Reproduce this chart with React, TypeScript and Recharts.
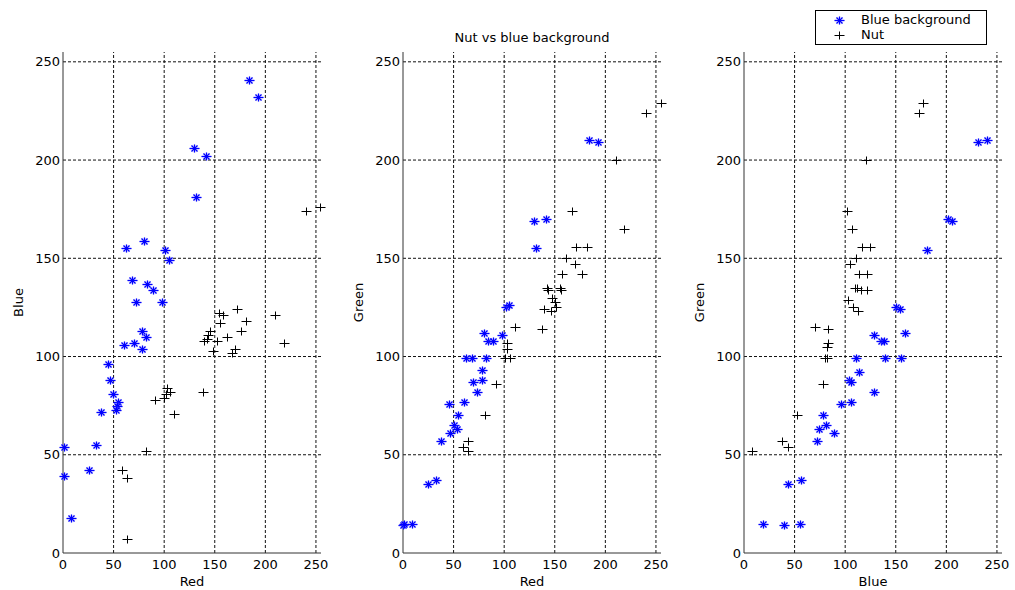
import { ScatterChart, Scatter, XAxis, YAxis, ReferenceLine } from "recharts";

type Pair = [number, number];

// Red vs Blue
const bgRedBlue: Pair[] = [
  [184, 241], [193, 232], [129, 206], [141, 202], [131, 181], [62, 155], [80, 159], [101, 154],
  [105, 149], [68, 139], [83, 137], [89, 134], [72, 128], [98, 128], [78, 113], [82, 110],
  [60, 106], [70, 107], [78, 104], [44, 96], [46, 88], [49, 81], [54, 77], [53, 75],
  [52, 73], [38, 72], [33, 55], [1, 54], [26, 42], [1, 39], [8, 18],
];
const nutRedBlue: Pair[] = [
  [154, 122], [158, 121], [172, 124], [210, 121], [181, 118], [155, 117], [176, 113], [162, 110],
  [145, 113], [143, 111], [139, 108], [142, 109], [152, 108], [218, 107], [148, 103], [167, 102],
  [170, 104], [103, 84], [106, 82], [102, 81], [100, 79], [91, 78], [138, 82], [110, 71],
  [82, 52], [58, 42], [63, 38], [63, 7], [240, 174], [254, 176],
];

// Red vs Green
const bgRedGreen: Pair[] = [
  [184, 210], [193, 209], [129, 169], [141, 170], [131, 155], [102, 125], [105, 126], [80, 112],
  [98, 111], [84, 108], [89, 108], [62, 99], [68, 99], [82, 99], [78, 93], [78, 88],
  [69, 87], [73, 82], [60, 77], [45, 76], [54, 70], [50, 65], [53, 63], [46, 61],
  [38, 57], [25, 35], [33, 37], [0, 14], [1, 15], [9, 15],
];
const nutRedGreen: Pair[] = [
  [255, 229], [240, 224], [211, 200], [218, 165], [167, 174], [171, 156], [182, 156], [161, 150],
  [170, 147], [157, 142], [177, 142], [142, 135], [143, 134], [156, 134], [155, 135], [147, 130],
  [151, 125], [139, 124], [146, 123], [150, 128], [111, 115], [137, 114], [103, 107], [103, 104],
  [101, 99], [106, 99], [92, 86], [81, 70], [64, 57], [59, 54], [64, 52],
];

// Blue vs Green
const bgBlueGreen: Pair[] = [
  [231, 209], [240, 210], [202, 170], [206, 169], [181, 154], [150, 125], [154, 124], [128, 111],
  [135, 108], [138, 108], [159, 112], [111, 99], [139, 99], [155, 99], [114, 92], [104, 88],
  [106, 87], [128, 82], [96, 76], [106, 77], [78, 70], [74, 63], [81, 65], [89, 61],
  [72, 57], [43, 35], [56, 37], [19, 15], [40, 14], [55, 15],
];
const nutBlueGreen: Pair[] = [
  [177, 229], [173, 224], [121, 200], [102, 174], [107, 165], [117, 156], [125, 156], [111, 150],
  [105, 147], [114, 142], [122, 142], [110, 135], [112, 135], [116, 134], [122, 134], [103, 129],
  [108, 125], [113, 123], [70, 115], [83, 114], [83, 107], [82, 105], [80, 99], [82, 99],
  [78, 86], [52, 70], [38, 57], [43, 54], [8, 52],
];

const ticks = [0, 50, 100, 150, 200, 250];
const gridTicks = [50, 100, 150, 200, 250];
const axisMax = 255;
const font = "'DejaVu Sans', sans-serif";
const toPoints = (d: Pair[]) => d.map(([x, y]) => ({ x, y }));

const Star = (props: any) => {
  const cx = Math.round(props.cx) + 0.5;
  const cy = Math.round(props.cy) + 0.5;
  const lines = (
    <>
      <line x1={cx - 5} x2={cx + 5} y1={cy} y2={cy} />
      <line x1={cx} x2={cx} y1={cy - 4} y2={cy + 4} />
      <line x1={cx - 3} y1={cy - 3} x2={cx + 3} y2={cy + 3} />
      <line x1={cx - 3} y1={cy + 3} x2={cx + 3} y2={cy - 3} />
    </>
  );
  return (
    <g>
      <g stroke="#8080ff" strokeWidth={2.2} opacity={0.45}>{lines}</g>
      <g stroke="#0000ff" strokeWidth={1.1}>{lines}</g>
    </g>
  );
};

const Cross = (props: any) => {
  const cx = Math.round(props.cx) + 0.5;
  const cy = Math.round(props.cy) + 0.5;
  return (
    <g stroke="#000" strokeWidth={1}>
      <line x1={cx - 5} x2={cx + 5} y1={cy} y2={cy} />
      <line x1={cx} x2={cx} y1={cy - 4} y2={cy + 4} />
    </g>
  );
};

interface PanelProps {
  left: number;
  marginLeft: number;
  marginRight: number;
  bg: Pair[];
  nut: Pair[];
  xLabel: string;
  yLabel: string;
}

const Panel = ({ left, marginLeft, marginRight, bg, nut, xLabel, yLabel }: PanelProps) => (
  <div style={{ position: "absolute", left, top: 0 }}>
    <ScatterChart
      width={340}
      height={590}
      margin={{ top: 52, right: marginRight, bottom: 3, left: marginLeft }}
    >
      <XAxis
        type="number"
        dataKey="x"
        domain={[0, axisMax]}
        ticks={ticks}
        height={34}
        tickSize={0}
        tickMargin={7}
        stroke="#333"
        tick={{ fill: "#000", fontSize: 13, fontFamily: font }}
        label={{ value: xLabel, position: "insideBottom", offset: 1, style: { fontSize: 13, fontFamily: font, fill: "#000" } }}
      />
      <YAxis
        type="number"
        dataKey="y"
        domain={[0, axisMax]}
        ticks={ticks}
        width={50}
        tickSize={0}
        tickMargin={3}
        stroke="#333"
        tick={{ fill: "#000", fontSize: 13, fontFamily: font }}
        label={{ value: yLabel, angle: -90, position: "insideLeft", offset: 5, style: { textAnchor: "middle", fontSize: 13, fontFamily: font, fill: "#000" } }}
      />
      {gridTicks.map((v) => (
        <ReferenceLine key={`h${v}`} y={v} stroke="#111" strokeDasharray="3 2" />
      ))}
      {gridTicks.map((v) => (
        <ReferenceLine key={`v${v}`} x={v} stroke="#111" strokeDasharray="3 2" />
      ))}
      <Scatter data={toPoints(bg)} shape={Star} isAnimationActive={false} />
      <Scatter data={toPoints(nut)} shape={Cross} isAnimationActive={false} />
    </ScatterChart>
  </div>
);

const App = () => (
  <div style={{ position: "absolute", left: 0, top: 0, width: 1015, height: 590, background: "#fff" }}>
    <Panel left={0} marginLeft={13} marginRight={19} bg={bgRedBlue} nut={nutRedBlue} xLabel="Red" yLabel="Blue" />
    <Panel left={340} marginLeft={13} marginRight={19} bg={bgRedGreen} nut={nutRedGreen} xLabel="Red" yLabel="Green" />
    <Panel left={680} marginLeft={14} marginRight={18} bg={bgBlueGreen} nut={nutBlueGreen} xLabel="Blue" yLabel="Green" />
    <svg width={1015} height={590} style={{ position: "absolute", left: 0, top: 0, pointerEvents: "none" }}>
      <text x={532} y={42} textAnchor="middle" fontSize={13} fontFamily={font} fill="#000">
        Nut vs blue background
      </text>
      <rect x={815.5} y={10.5} width={171} height={34} fill="#fff" stroke="#000" />
      <Star cx={839} cy={20} />
      <Cross cx={839} cy={35} />
      <text x={861} y={24} fontSize={13} fontFamily={font} fill="#000">Blue background</text>
      <text x={861} y={39} fontSize={13} fontFamily={font} fill="#000">Nut</text>
    </svg>
  </div>
);

export default App;
